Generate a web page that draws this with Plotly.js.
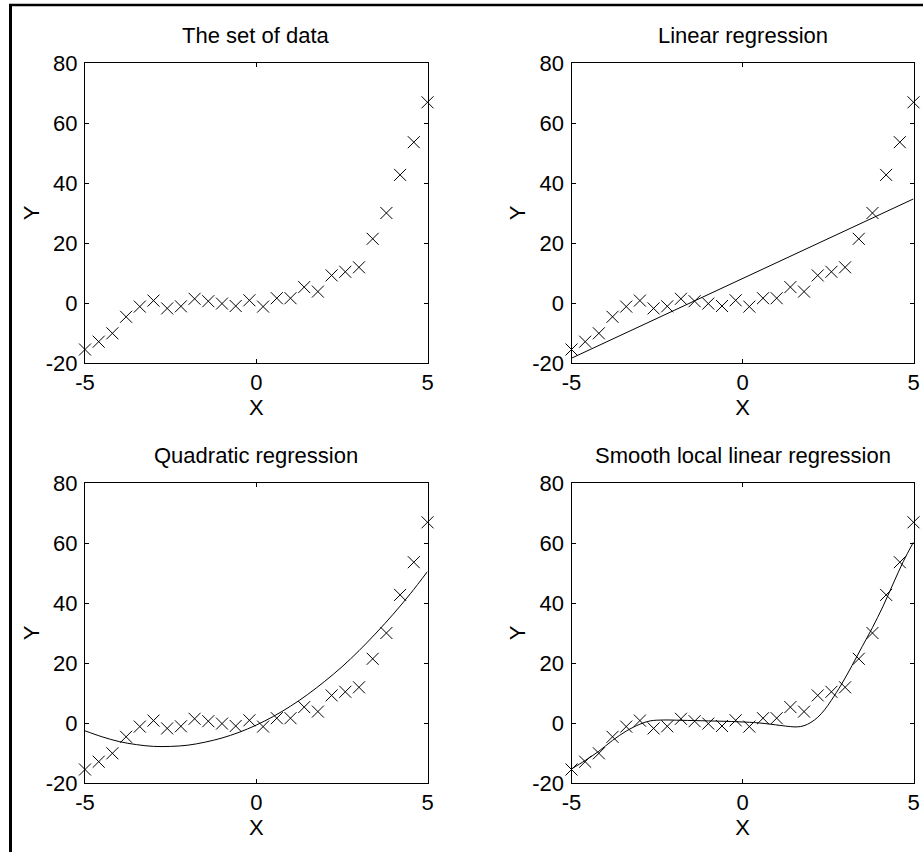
<!DOCTYPE html>
<html>
<head>
<meta charset="utf-8">
<script src="https://cdn.plot.ly/plotly-3.0.1.min.js"></script>
<style>
  html, body { margin: 0; padding: 0; background: #fff; }
  #chart { width: 923px; height: 852px; }
</style>
</head>
<body>
<div id="chart"></div>
<script>
// Observations: 26 samples on [-5, 5]
const xData = [-5, -4.6, -4.2, -3.8, -3.4, -3.0, -2.6, -2.2, -1.8, -1.4, -1.0, -0.6, -0.2,
               0.2, 0.6, 1.0, 1.4, 1.8, 2.2, 2.6, 3.0, 3.4, 3.8, 4.2, 4.6, 5.0];
const yData = [-15.5, -12.9, -10.1, -4.6, -1.2, 0.8, -1.8, -1.1, 1.4, 0.6, -0.2, -1.0, 0.9,
               -1.2, 1.6, 1.6, 5.3, 3.8, 9.2, 10.4, 11.9, 21.4, 30.0, 42.7, 53.6, 66.9];

// Fitted curves
const linX = [-5, 5];
const linY = [-18.4, 34.7];

const quadX = [-5, -4.5, -4, -3.5, -3, -2.5, -2, -1.5, -1, -0.5, 0,
               0.5, 1, 1.5, 2, 2.5, 3, 3.5, 4, 4.5, 5];
const quadY = [-2.6, -4.6, -6.2, -7.2, -7.8, -7.8, -7.4, -6.4, -5.0, -3.1, -0.7,
               2.2, 5.6, 9.5, 13.9, 18.7, 24.1, 30.0, 36.3, 43.1, 50.5];

const smoothX = [-5, -4.6, -4.2, -3.8, -3.4, -3.0, -2.7, -2.3, -1.8, -1.0, -0.1, 0.5, 1.1,
                 1.4, 1.6, 1.8, 2.0, 2.2, 2.4, 2.6, 2.9, 3.2, 3.5, 3.8, 4.1, 4.4, 4.7, 5.0];
const smoothY = [-15.3, -12.5, -9.4, -5.8, -2.7, -0.4, 0.7, 1.0, 0.9, 0.7, 0.4, 0.0, -0.8,
                 -1.2, -1.3, -0.9, 0.2, 1.9, 4.4, 7.6, 13.0, 19.1, 25.5, 31.8, 38.7, 46.3, 53.8, 60.3];

// Axis ticks
const xTickVals = [-5, 0, 5];
const xTickText = ['-5', '0', '5'];
const yTickVals = [-20, 0, 20, 40, 60, 80];
const yTickText = ['-20', '0', '20', '40', '60', '80'];

const panelTitles = ['The set of data', 'Linear regression',
                     'Quadratic regression', 'Smooth local linear regression'];

const FONT = 'Liberation Sans, Arial, Helvetica, sans-serif';
const W = 923, H = 852;

// Plot-area boxes in pixels: [left, right, top, bottom]
const boxes = [
  [85, 427.5, 63, 363],
  [571.5, 913.5, 63, 363],
  [85, 427.5, 483, 783],
  [571.5, 913.5, 483, 783]
];

function markerTrace(i) {
  const s = i === 0 ? '' : String(i + 1);
  return {
    x: xData, y: yData, type: 'scatter', mode: 'markers',
    xaxis: 'x' + s, yaxis: 'y' + s, cliponaxis: false,
    marker: { symbol: 'x-thin-open', size: 12, color: '#000',
              line: { width: 1, color: '#000' } },
    hoverinfo: 'x+y', showlegend: false
  };
}

function lineTrace(i, xs, ys) {
  const s = String(i + 1);
  return {
    x: xs, y: ys, type: 'scatter', mode: 'lines',
    xaxis: 'x' + s, yaxis: 'y' + s,
    line: { color: '#000', width: 1, shape: 'spline', smoothing: 1 },
    hoverinfo: 'x+y', showlegend: false
  };
}

const traces = [
  markerTrace(0),
  markerTrace(1), lineTrace(1, linX, linY),
  markerTrace(2), lineTrace(2, quadX, quadY),
  markerTrace(3), lineTrace(3, smoothX, smoothY)
];

const layout = {
  width: W, height: H,
  margin: { l: 0, r: 0, t: 0, b: 0 },
  paper_bgcolor: '#fff', plot_bgcolor: '#fff',
  font: { family: FONT, size: 22, color: '#000' },
  showlegend: false,
  annotations: [],
  shapes: [
    // outer figure frame (left and top edges)
    { type: 'line', xref: 'paper', yref: 'paper', x0: 10.5 / W, x1: 10.5 / W, y0: 0, y1: 1 - 4 / H,
      line: { color: '#000', width: 3 } },
    { type: 'line', xref: 'paper', yref: 'paper', x0: 9 / W, x1: 1, y0: 1 - 5 / H, y1: 1 - 5 / H,
      line: { color: '#000', width: 2.5 } }
  ]
};

boxes.forEach((b, i) => {
  const s = i === 0 ? '' : String(i + 1);
  const xd = [b[0] / W, b[1] / W];
  const yd = [1 - b[3] / H, 1 - b[2] / H];
  const common = {
    ticks: 'inside', ticklen: 4, tickwidth: 1, tickcolor: '#000',
    showline: true, linecolor: '#000', linewidth: 1, mirror: 'ticks',
    showgrid: false, zeroline: false, automargin: false, fixedrange: true,
    tickfont: { family: FONT, size: 22, color: '#000' }
  };
  layout['xaxis' + s] = Object.assign({}, common, {
    domain: xd, anchor: 'y' + s, range: [-5, 5],
    tickmode: 'array', tickvals: xTickVals, ticktext: xTickText,
    ticklabelstandoff: 0,
    title: { text: 'X', font: { family: FONT, size: 22, color: '#000' }, standoff: 2 }
  });
  layout['yaxis' + s] = Object.assign({}, common, {
    domain: yd, anchor: 'x' + s, range: [-20, 80],
    tickmode: 'array', tickvals: yTickVals, ticktext: yTickText,
    ticklabelstandoff: 2,
    title: { text: 'Y', font: { family: FONT, size: 22, color: '#000' }, standoff: 0 }
  });
  layout.annotations.push({
    text: panelTitles[i], xref: 'paper', yref: 'paper',
    x: (b[0] + b[1]) / 2 / W, y: 1 - (b[2] - 27) / H,
    xanchor: 'center', yanchor: 'middle', showarrow: false,
    font: { family: FONT, size: 22, color: '#000' }
  });
});

Plotly.newPlot('chart', traces, layout, { staticPlot: true, displayModeBar: false });
</script>
</body>
</html>
